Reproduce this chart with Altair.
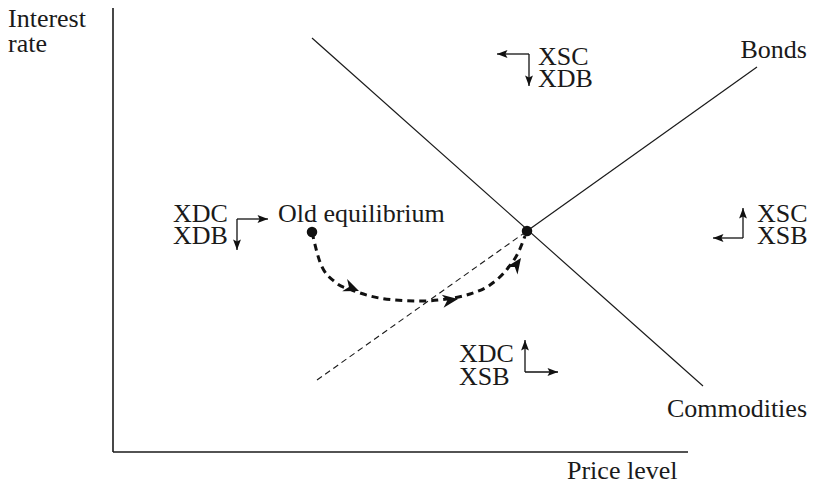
import altair as alt
import pandas as pd

# Diagram coordinates: origin at the axes' corner, x to the right, y upward
X_DOMAIN = [-105, 694]
Y_DOMAIN = [-28, 444]

# Solid lines: axes and the two market-clearing curves
seg_name = ["Interest-rate axis", "Price-level axis", "Commodities", "Bonds"]
seg_x1 = [0, 0, 199, 414]
seg_y1 = [447, 0, 414, 221]
seg_x2 = [0, 575, 590, 644]
seg_y2 = [0, 0, 66, 385]
seg_w = [1.6, 1.6, 1.2, 1.2]

# Thin dashed extension of the bonds line
ext_x1 = [204]
ext_y1 = [72]
ext_x2 = [414]
ext_y2 = [221]

# Adjustment path from the old to the new equilibrium
path_x = [199, 207, 222, 239, 257, 282, 307, 334, 357, 377, 395, 406, 412]
path_y = [220, 190, 170, 162, 156, 152, 151, 153, 158, 167, 184, 201, 216]
path_head_x = [246, 345, 408]
path_head_y = [161, 153, 194]
path_head_angle = [22, 352, 305]

# Equilibrium points
dot_x = [199, 414]
dot_y = [220, 221]

# Elbow arrows (corner -> tip)
elb_x1 = [416, 416, 124, 124, 630, 630, 412, 412]
elb_y1 = [398, 398, 233, 233, 214, 214, 80, 80]
elb_x2 = [384, 416, 155, 124, 630, 600, 412, 445]
elb_y2 = [398, 366, 233, 202, 244, 214, 112, 80]
elb_angle = [180, 90, 0, 90, 270, 180, 270, 0]

# Labels
lab_left_text = ["Interest", "rate", "Old equilibrium", "XSC", "XDB", "XDC", "XDB",
                 "XSC", "XSB", "XDC", "XSB", "Price level"]
lab_left_x = [-105, -105, 165, 425, 425, 60, 60, 644, 644, 346, 346, 454]
lab_left_y = [425, 400, 230, 387, 365, 230, 208, 230, 208, 90, 67, -27]
lab_right_text = ["Bonds", "Commodities"]
lab_right_x = [694, 694]
lab_right_y = [394, 35]

FONT = "Liberation Serif"
FS = 26

xs = alt.Scale(domain=X_DOMAIN, nice=False, zero=False)
ys = alt.Scale(domain=Y_DOMAIN, nice=False, zero=False)
X = lambda f: alt.X(f, type="quantitative", scale=xs, axis=None)
Y = lambda f: alt.Y(f, type="quantitative", scale=ys, axis=None)

segs = pd.DataFrame(dict(name=seg_name, x=seg_x1, y=seg_y1, x2=seg_x2, y2=seg_y2, w=seg_w))
solid = alt.Chart(segs).mark_rule(color="#1a1a1a").encode(
    x=X("x"), y=Y("y"), x2="x2", y2="y2",
    strokeWidth=alt.StrokeWidth("w:Q", scale=None, legend=None),
)

ext = pd.DataFrame(dict(x=ext_x1, y=ext_y1, x2=ext_x2, y2=ext_y2))
dashed = alt.Chart(ext).mark_rule(color="#1a1a1a", strokeWidth=1.1, strokeDash=[6, 4]).encode(
    x=X("x"), y=Y("y"), x2="x2", y2="y2"
)

path = pd.DataFrame(dict(i=list(range(len(path_x))), x=path_x, y=path_y))
curve = alt.Chart(path).mark_line(
    color="#111111", strokeWidth=3, strokeDash=[7, 5], interpolate="monotone"
).encode(x=X("x"), y=Y("y"), order="i:Q")

HEAD_BIG = "M0,0L-2,-0.85L-1.4,0L-2,0.85Z"
heads_path = pd.DataFrame(dict(x=path_head_x, y=path_head_y, a=path_head_angle))
curve_heads = alt.Chart(heads_path).mark_point(
    shape=HEAD_BIG, filled=True, color="#111111", size=240, opacity=1
).encode(x=X("x"), y=Y("y"), angle=alt.Angle("a:Q", scale=None))

dots = pd.DataFrame(dict(x=dot_x, y=dot_y))
dot_layer = alt.Chart(dots).mark_circle(color="#111111", size=110, opacity=1).encode(
    x=X("x"), y=Y("y")
)

elb = pd.DataFrame(dict(x=elb_x1, y=elb_y1, x2=elb_x2, y2=elb_y2, a=elb_angle))
elb_lines = alt.Chart(elb).mark_rule(color="#111111", strokeWidth=1.3).encode(
    x=X("x"), y=Y("y"), x2="x2", y2="y2"
)
HEAD_SMALL = "M0,0L-2,-0.75L-1.6,0L-2,0.75Z"
elb_heads = alt.Chart(elb).mark_point(
    shape=HEAD_SMALL, filled=True, color="#111111", size=110, opacity=1
).encode(x=X("x2"), y=Y("y2"), angle=alt.Angle("a:Q", scale=None))

labL = pd.DataFrame(dict(t=lab_left_text, x=lab_left_x, y=lab_left_y))
textL = alt.Chart(labL).mark_text(
    font=FONT, fontSize=FS, align="left", baseline="alphabetic", color="#1a1a1a"
).encode(x=X("x"), y=Y("y"), text="t:N")

labR = pd.DataFrame(dict(t=lab_right_text, x=lab_right_x, y=lab_right_y))
textR = alt.Chart(labR).mark_text(
    font=FONT, fontSize=FS, align="right", baseline="alphabetic", color="#1a1a1a"
).encode(x=X("x"), y=Y("y"), text="t:N")

chart = alt.layer(
    solid, dashed, curve, curve_heads, dot_layer, elb_lines, elb_heads, textL, textR
).properties(
    width=799, height=472, padding=0, autosize=alt.AutoSizeParams(type="none")
).configure(
    background="white", view=alt.ViewConfig(stroke=None)
)

chart.save("out.html", embed_options={"renderer": "svg", "actions": False})
